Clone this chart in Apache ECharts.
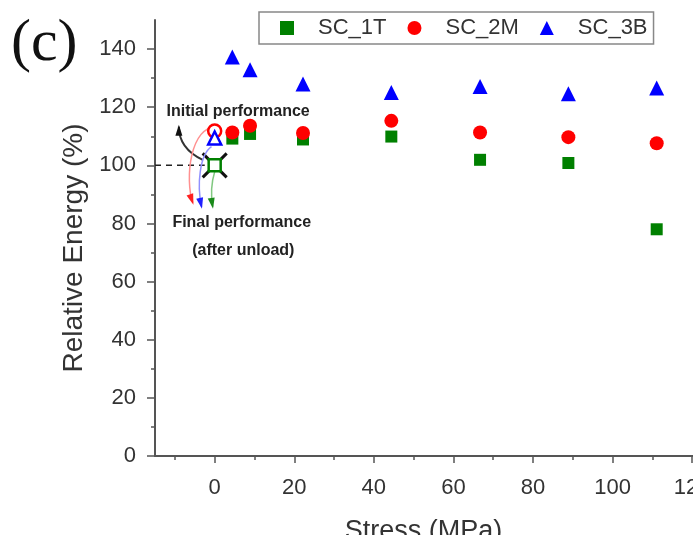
<!DOCTYPE html>
<html>
<head>
<meta charset="utf-8">
<title>Relative Energy vs Stress</title>
<script src="https://cdn.jsdelivr.net/npm/echarts@6.0.0/dist/echarts.min.js"></script>
<style>
  html, body { margin: 0; padding: 0; background: #fff; }
  #main { width: 693px; height: 535px; }
</style>
</head>
<body>
<div id="main"></div>
<script>
// 数据
var stress = [4.44, 8.89, 22.2, 44.4, 66.7, 88.9, 111.1];
var sc1T = [109.2, 110.8, 108.9, 109.9, 101.9, 100.8, 78.0];
var sc2M = [111.3, 113.6, 111.1, 115.3, 111.3, 109.7, 107.6];
var sc3B = [137.3, 132.9, 128.0, 125.1, 127.1, 124.6, 126.6];

// initial performance, all at 0 MPa
var init1T = 100;
var init2M = 111.8;
var init3B = 109.4;

var xTicks = [0, 20, 40, 60, 80, 100, 120];
var xMinor = [-10, 10, 30, 50, 70, 90, 110];
var yTicks = [0, 20, 40, 60, 80, 100, 120, 140];
var yMinor = [10, 30, 50, 70, 90, 110, 130];

// annotation anchors, in data units (stress, energy)
var dashLine = [[-15, 100], [-2.5, 100]];
var crossPoint = [0, 100];
var arrows = [
  { pts: [[-3.0, 101.9], [-7.3, 104.7], [-9.0, 108.8], [-9.0, 113.3]], line: '#333', head: '#111', w: 2 },
  { pts: [[0.8, 113.3], [-6.3, 113.9], [-7.5, 95.0], [-5.5, 87.1]], line: '#ff9090', head: '#ff2020', w: 1.5 },
  { pts: [[-0.8, 106.4], [-3.8, 103.6], [-4.5, 93.3], [-3.3, 85.7]], line: '#9090ff', head: '#2020ff', w: 1.5 },
  { pts: [[0, 97.8], [-1.0, 93.3], [-1.0, 89.8], [-0.5, 85.7]], line: '#80c880', head: '#1a8a1a', w: 1.5 }
];
var notes = [
  { at: [5.9, 118.5], text: 'Initial performance' },
  { at: [6.8, 80.2], text: 'Final performance' },
  { at: [7.2, 70.6], text: '(after unload)' }
];

function pairs(xs, ys) {
  return xs.map(function (x, i) { return [x, ys[i]]; });
}

var font = '"Liberation Sans", Arial, sans-serif';
var axisColor = '#555';
var textColor = '#333';

var myChart = echarts.init(document.getElementById('main'));

var option = {
  backgroundColor: '#fff',
  animation: false,
  grid: { left: 155, top: 20, right: -19, bottom: 79, containLabel: false, outerBoundsMode: 'none' },
  legend: {
    data: ['SC_1T', 'SC_2M', 'SC_3B'],
    left: 259,
    top: 12,
    orient: 'horizontal',
    itemWidth: 14,
    itemHeight: 14,
    itemGap: 21,
    padding: [5, 6, 5, 21],
    borderColor: '#888',
    borderWidth: 1.5,
    textStyle: { fontFamily: font, fontSize: 22, color: textColor, padding: [0, 0, 0, 19] }
  },
  graphic: [{
    type: 'text',
    left: 11,
    top: 14,
    style: { text: '(c)', font: '60px "Liberation Serif", "Times New Roman", serif', fill: '#111' }
  }],
  xAxis: [{
    type: 'value',
    position: 'bottom',
    min: -15,
    max: 125,
    name: 'Stress (MPa)',
    nameLocation: 'middle',
    nameGap: 62,
    nameTextStyle: { fontFamily: font, fontSize: 27, color: textColor, padding: [0, 20, 0, 0] },
    splitLine: { show: false },
    axisLine: { show: true, onZero: false, lineStyle: { color: axisColor, width: 2 } },
    axisTick: { show: true, inside: false, length: 7, customValues: xTicks, lineStyle: { color: axisColor, width: 1.5 } },
    axisLabel: { customValues: xTicks, margin: 21, fontFamily: font, fontSize: 22, color: textColor }
  }, {
    // minor ticks
    type: 'value',
    position: 'bottom',
    min: -15,
    max: 125,
    splitLine: { show: false },
    axisLine: { show: false, onZero: false },
    axisTick: { show: true, length: 4, customValues: xMinor, lineStyle: { color: axisColor, width: 1.5 } },
    axisLabel: { show: false }
  }],
  yAxis: [{
    type: 'value',
    position: 'left',
    min: 0,
    max: 150,
    name: 'Relative Energy (%)',
    nameLocation: 'middle',
    nameGap: 65,
    nameTextStyle: { fontFamily: font, fontSize: 28, color: textColor, padding: [0, 20, 0, 0] },
    splitLine: { show: false },
    axisLine: { show: true, onZero: false, lineStyle: { color: axisColor, width: 2 } },
    axisTick: { show: true, length: 8, customValues: yTicks, lineStyle: { color: axisColor, width: 1.5 } },
    axisLabel: { customValues: yTicks, margin: 19, fontFamily: font, fontSize: 22, color: textColor }
  }, {
    type: 'value',
    position: 'left',
    min: 0,
    max: 150,
    splitLine: { show: false },
    axisLine: { show: false, onZero: false },
    axisTick: { show: true, length: 4, customValues: yMinor, lineStyle: { color: axisColor, width: 1.5 } },
    axisLabel: { show: false }
  }],
  series: [
    {
      // dashed guide, arrows, cross and notes
      type: 'custom',
      name: 'notes',
      coordinateSystem: 'cartesian2d',
      clip: false,
      z: 2,
      data: [crossPoint],
      renderItem: function (params, api) {
        var children = [];
        var d0 = api.coord(dashLine[0]);
        var d1 = api.coord(dashLine[1]);
        children.push({
          type: 'line',
          shape: { x1: d0[0], y1: d0[1], x2: d1[0], y2: d1[1] },
          style: { stroke: '#222', lineWidth: 1.5, lineDash: [6, 5] }
        });
        // black X mark
        var c = api.coord(crossPoint);
        var arm = 12;
        children.push({ type: 'line', shape: { x1: c[0] - arm, y1: c[1] - arm, x2: c[0] + arm, y2: c[1] + arm }, style: { stroke: '#111', lineWidth: 3 } });
        children.push({ type: 'line', shape: { x1: c[0] - arm, y1: c[1] + arm, x2: c[0] + arm, y2: c[1] - arm }, style: { stroke: '#111', lineWidth: 3 } });

        arrows.forEach(function (a) {
          var p = a.pts.map(function (q) { return api.coord(q); });
          children.push({
            type: 'bezierCurve',
            shape: { x1: p[0][0], y1: p[0][1], cpx1: p[1][0], cpy1: p[1][1], cpx2: p[2][0], cpy2: p[2][1], x2: p[3][0], y2: p[3][1] },
            style: { stroke: a.line, fill: 'none', lineWidth: a.w }
          });
          var dx = p[3][0] - p[2][0], dy = p[3][1] - p[2][1];
          var len = Math.sqrt(dx * dx + dy * dy) || 1;
          dx /= len; dy /= len;
          var L = 9, W = 3.5;
          var bx = p[3][0] - dx * L, by = p[3][1] - dy * L;
          children.push({
            type: 'polygon',
            shape: { points: [[p[3][0] + dx * 2, p[3][1] + dy * 2], [bx - dy * W, by + dx * W], [bx + dy * W, by - dx * W]] },
            style: { fill: a.head }
          });
        });

        notes.forEach(function (n) {
          var q = api.coord(n.at);
          children.push({
            type: 'text',
            x: q[0],
            y: q[1],
            style: { text: n.text, align: 'center', verticalAlign: 'middle', font: 'bold 16px ' + font, fill: '#222' }
          });
        });
        return { type: 'group', children: children };
      }
    },
    {
      name: 'init_2M', type: 'scatter', z: 3, symbol: 'circle', symbolSize: 13,
      itemStyle: { color: '#fff', borderColor: '#ff0000', borderWidth: 2.5, opacity: 1 },
      data: [[0, init2M]]
    },
    {
      name: 'init_3B', type: 'scatter', z: 4, symbol: 'triangle', symbolSize: 13,
      itemStyle: { color: '#fff', borderColor: '#0000ff', borderWidth: 2.5, opacity: 1 },
      data: [[0, init3B]]
    },
    {
      name: 'init_1T', type: 'scatter', z: 4, symbol: 'rect', symbolSize: 12,
      itemStyle: { color: '#fff', borderColor: '#008000', borderWidth: 2.5, opacity: 1 },
      data: [[0, init1T]]
    },
    {
      name: 'SC_1T', type: 'scatter', z: 5, symbol: 'rect', symbolSize: 12,
      itemStyle: { color: '#008000', opacity: 1 },
      data: pairs(stress, sc1T)
    },
    {
      name: 'SC_2M', type: 'scatter', z: 5, symbol: 'circle', symbolSize: 14,
      itemStyle: { color: '#ff0000', opacity: 1 },
      data: pairs(stress, sc2M)
    },
    {
      name: 'SC_3B', type: 'scatter', z: 5, symbol: 'triangle', symbolSize: 15,
      itemStyle: { color: '#0000ff', opacity: 1 },
      data: pairs(stress, sc3B)
    }
  ]
};

myChart.setOption(option);
</script>
</body>
</html>
